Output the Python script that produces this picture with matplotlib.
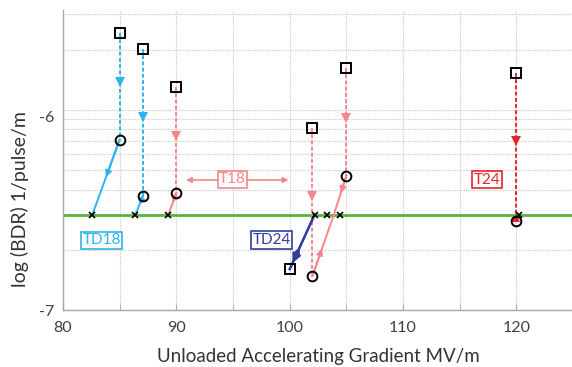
import matplotlib
matplotlib.use("Agg")
import matplotlib.pyplot as plt
from matplotlib.ticker import FixedLocator, NullFormatter
import matplotlib.transforms as mtransforms
import numpy as np

plt.rcParams['font.family'] = ['Lato', 'DejaVu Sans']

# ---------------- data ----------------
target_bdr = 3e-7

# TD18
td18_grad = [85.0, 87.05]
td18_bdr_start = [2.43e-6, 2.02e-6]
td18_bdr_mid = [7.1e-7, 3.72e-7]
td18_grad_end = [82.6, 86.4]

# T18
t18_grad = [90.0, 102.0, 105.0]
t18_bdr_start = [1.30e-6, 8.1e-7, 1.62e-6]
t18_bdr_mid = [3.85e-7, 1.48e-7, 4.7e-7]
t18_grad_end = [89.3, 103.9, 103.9]

# TD24
td24_grad = [100.0]
td24_bdr_start = [1.60e-7]
td24_grad_end = [102.2]

# T24
t24_grad = [120.0]
t24_bdr_start = [1.53e-6]
t24_bdr_mid = [2.79e-7]
t24_grad_end = [120.2]

# points reached on the target line
cross_grad = [82.6, 86.4, 89.3, 102.2, 103.3, 104.4, 120.2]

x_ticks = [80, 90, 100, 110, 120]
x_tick_labels = ["80", "90", "100", "110", "120"]
y_ticks = [1e-7, 1e-6]
y_tick_labels = ["-7", "-6"]

# ---------------- style ----------------
C_TD18 = "#2cb5ec"
C_T18 = "#f4878b"
C_TD24 = "#2f3e9e"
C_T24 = "#e8232b"
C_GREEN = "#55b73a"

fig = plt.figure(figsize=(5.72, 3.67), dpi=100)
ax = fig.add_axes([0.110, 0.155, 0.892, 0.818])
ax.set_yscale("log")
ax.set_xlim(80, 125)
ax.set_ylim(1e-7, 10 ** -5.5)

# grid
ax.xaxis.set_major_locator(FixedLocator(x_ticks))
ax.xaxis.set_minor_locator(FixedLocator([85, 95, 105, 115]))
ax.set_xticklabels(x_tick_labels)
ax.yaxis.set_major_locator(FixedLocator(y_ticks))
ax.yaxis.set_minor_locator(FixedLocator([k * 1e-7 for k in range(2, 10)] + [2e-6, 3e-6]))
ax.yaxis.set_minor_formatter(NullFormatter())
ax.set_yticklabels(y_tick_labels)
ax.grid(True, which="both", color="#c9c9c9", linestyle=(0, (1, 1)), linewidth=0.8)
ax.set_axisbelow(True)

for s in ["top", "right"]:
    ax.spines[s].set_visible(False)
for s in ["left", "bottom"]:
    ax.spines[s].set_color("#a6a6a6")
    ax.spines[s].set_linewidth(1.0)

ax.tick_params(axis="x", which="both", direction="in", length=4, color="#a6a6a6",
               labelsize=11.5, labelcolor="#404040", pad=8)
ax.tick_params(axis="y", which="both", length=0, labelsize=11.5, labelcolor="#404040", pad=6)
# the "-6" label sits a little below its gridline in the reference
for lab in ax.get_yticklabels():
    if lab.get_text() == "-6":
        lab.set_transform(lab.get_transform() + mtransforms.ScaledTranslation(0, -7 / 100, fig.dpi_scale_trans))

ax.set_xlabel("Unloaded Accelerating Gradient MV/m", fontsize=13.5, color="#333333", labelpad=9)
ax.set_ylabel("log (BDR) 1/pulse/m", fontsize=14, color="#333333")
ax.yaxis.set_label_coords(-0.066, 0.37)

# target line
ax.axhline(target_bdr, color=C_GREEN, lw=2.0, zorder=2)


def geo_mid(a, b, f=0.5):
    return 10 ** (np.log10(a) + f * (np.log10(b) - np.log10(a)))


def drop(x, y0, y1, color):
    ax.plot([x, x], [y0, y1], color=color, lw=1.4, linestyle=(0, (2, 1.2)), zorder=3)
    ax.plot([x], [geo_mid(y0, y1, 0.46)], marker="v", ms=7.5, color=color,
            markeredgewidth=0, linestyle="none", zorder=4)


def slant(x0, y0, x1, y1, color, ms=9, f=0.55, lw=1.4):
    ax.plot([x0, x1], [y0, y1], color=color, lw=lw, zorder=3)
    xm = x0 + f * (x1 - x0)
    ym = geo_mid(y0, y1, f)
    ax.annotate("", xy=(xm, ym), xytext=(x0, y0),
                arrowprops=dict(arrowstyle="-|>", color=color, lw=lw,
                                mutation_scale=ms, shrinkA=0, shrinkB=0), zorder=4)


# TD18
for g, ys, ym, ge in zip(td18_grad, td18_bdr_start, td18_bdr_mid, td18_grad_end):
    drop(g, ys, ym, C_TD18)
    slant(g, ym, ge, target_bdr, C_TD18, f=0.5)

# T18
for i, (g, ys, ym, ge) in enumerate(zip(t18_grad, t18_bdr_start, t18_bdr_mid, t18_grad_end)):
    drop(g, ys, ym, C_T18)
    slant(g, ym, ge, target_bdr, C_T18, f=0.45)

# TD24
for g, ys, ge in zip(td24_grad, td24_bdr_start, td24_grad_end):
    slant(g, ys, ge, target_bdr, C_TD24, f=0.4, lw=1.6)
    ax.annotate("", xy=(g, ys), xytext=(ge, target_bdr),
                arrowprops=dict(arrowstyle="-|>", color=C_TD24, lw=1.6,
                                mutation_scale=13, shrinkA=0, shrinkB=5), zorder=4)

# T24
for g, ys, ym in zip(t24_grad, t24_bdr_start, t24_bdr_mid):
    drop(g, ys, ym, C_T24)
    ax.plot([g], [geo_mid(ym, target_bdr, 0.5)], marker="^", ms=6, color=C_T24,
            markeredgewidth=0, linestyle="none", zorder=4)

# markers
all_sq_x = td18_grad + t18_grad + td24_grad + t24_grad
all_sq_y = td18_bdr_start + t18_bdr_start + td24_bdr_start + t24_bdr_start
ax.plot(all_sq_x, all_sq_y, "s", ms=6.5, mfc="none", mec="black", mew=1.4, zorder=5)
all_c_x = td18_grad + t18_grad + t24_grad
all_c_y = td18_bdr_mid + t18_bdr_mid + t24_bdr_mid
ax.plot(all_c_x, all_c_y, "o", ms=7, mfc="none", mec="black", mew=1.4, zorder=5)
ax.plot(cross_grad, [target_bdr] * len(cross_grad), "x", ms=4.5, color="black", mew=1.2, zorder=5)

# labels
def tag(x, y, s, color):
    ax.text(x, y, s, color=color, fontsize=11, ha="center", va="center", zorder=6,
            bbox=dict(boxstyle="square,pad=0.1", fc="white", ec=color, lw=1.2))

tag(83.4, 2.23e-7, "TD18", C_TD18)
tag(98.4, 2.24e-7, "TD24", C_TD24)
tag(117.4, 4.49e-7, "T24", C_T24)
ax.annotate("", xy=(90.85, 4.47e-7), xytext=(94.9, 4.47e-7),
            arrowprops=dict(arrowstyle="-|>", color=C_T18, lw=1.2, mutation_scale=8,
                            shrinkA=0, shrinkB=0), zorder=4)
ax.annotate("", xy=(99.9, 4.47e-7), xytext=(94.9, 4.47e-7),
            arrowprops=dict(arrowstyle="-|>", color=C_T18, lw=1.2, mutation_scale=8,
                            shrinkA=0, shrinkB=0), zorder=4)
tag(94.95, 4.5e-7, "T18", C_T18)

fig.savefig("out.png", dpi=100)
